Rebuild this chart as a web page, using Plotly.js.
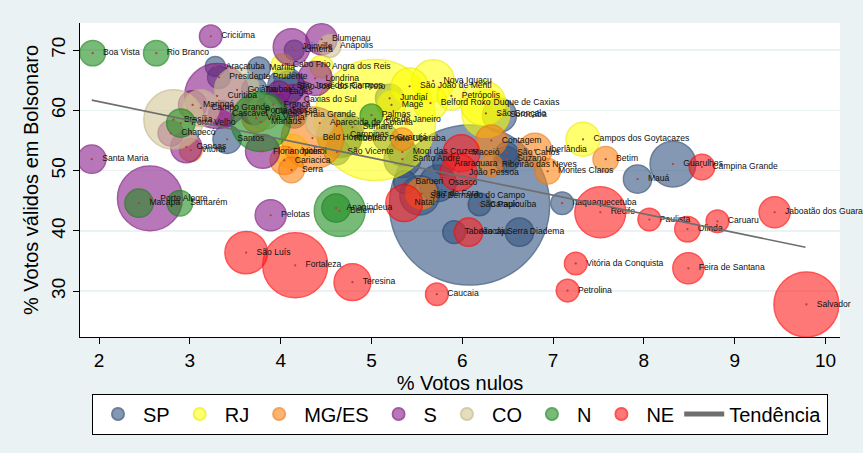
<!DOCTYPE html>
<html>
<head>
<meta charset="utf-8">
<script src="https://cdn.plot.ly/plotly-3.0.1.min.js"></script>
<style>
  html, body { margin: 0; padding: 0; background: #eaf2f3; }
  #chart { width: 863px; height: 453px; }
</style>
</head>
<body>
<div id="chart"></div>
<script>
// Votos nulos x votos válidos em Bolsonaro, por cidade, colorido por região.
// Tamanho da bolha = eleitorado (milhares).

const spNome = ["São Paulo", "Guarulhos", "Campinas", "São Bernardo do Campo", "Santo André", "Osasco",
  "São José dos Campos", "Ribeirão Preto", "Sorocaba", "Mauá", "São José do Rio Preto", "Mogi das Cruzes",
  "Santos", "Diadema", "Jundiaí", "Carapicuíba", "Itaquaquecetuba", "São Vicente", "Franca", "Praia Grande",
  "Guarujá", "Taubaté", "Limeira", "Suzano", "Taboão da Serra", "Sumaré", "Barueri", "Marília", "São Carlos",
  "Araraquara", "Presidente Prudente", "Araçatuba"];
const spNulos = [6.08, 8.32, 4.65, 5.53, 5.34, 5.73, 4.06, 4.70, 6.41, 7.93, 4.09, 5.34,
  3.41, 6.63, 5.20, 6.19, 7.10, 4.62, 3.92, 4.15, 5.16, 3.71, 4.15, 6.49, 5.91, 4.79, 5.37, 3.76, 6.49,
  5.80, 3.32, 3.28];
const spBolso = [44.3, 51.1, 55.9, 45.9, 51.9, 47.9, 64.0, 55.2, 59.2, 48.6, 63.9, 53.1,
  55.2, 39.8, 62.0, 44.4, 44.6, 53.1, 61.0, 59.2, 55.4, 63.4, 70.0, 51.9, 39.8, 57.2, 48.1, 67.0, 52.9,
  51.2, 65.5, 67.3];
const spEleit = [8600, 700, 680, 520, 450, 450, 450, 385, 385, 267, 323, 267,
  267, 267, 267, 171, 171, 216, 216, 216, 216, 216, 131, 216, 171, 171, 171, 171, 171,
  171, 171, 131];

const rjNome = ["Rio de Janeiro", "São Gonçalo", "Duque de Caxias", "Nova Iguaçu", "São João de Meriti",
  "Belford Roxo", "Niterói", "Campos dos Goytacazes", "Petrópolis", "Magé", "Cabo Frio", "Angra dos Reis"];
const rjNulos = [5.04, 6.26, 6.23, 5.68, 5.42, 5.65, 4.12, 7.33, 5.88, 5.22, 4.02, 4.45];
const rjBolso = [58.4, 59.5, 61.2, 64.9, 64.0, 61.2, 53.2, 55.2, 62.4, 60.9, 67.5, 67.3];
const rjEleit = [4900, 770, 680, 600, 450, 385, 385, 385, 267, 267, 171, 171];

const mgNome = ["Belo Horizonte", "Contagem", "Uberlândia", "Juiz de Fora", "Betim", "Montes Claros",
  "Ribeirão das Neves", "Uberaba", "Vila Velha", "Cariacica", "Serra", "Vitória"];
const mgNulos = [4.35, 6.32, 6.80, 5.55, 7.58, 6.94, 6.32, 5.34, 3.73, 4.04, 4.12, 3.01];
const mgBolso = [55.4, 55.0, 53.4, 46.2, 51.9, 49.9, 50.9, 55.2, 58.7, 51.7, 50.1, 53.4];
const mgEleit = [1290, 323, 385, 323, 216, 216, 171, 171, 267, 267, 216, 171];

const sNome = ["Curitiba", "Porto Alegre", "Joinville", "Londrina", "Caxias do Sul", "Florianópolis",
  "Maringá", "Pelotas", "Canoas", "Blumenau", "Ponta Grossa", "Cascavel", "Santa Maria", "Chapecó",
  "Criciúma", "Lages"];
const sNulos = [3.30, 2.56, 4.12, 4.38, 4.14, 3.80, 3.03, 3.89, 2.96, 4.45, 3.71, 3.35, 1.92, 2.79, 3.23, 3.98];
const sBolso = [62.4, 45.4, 70.5, 65.3, 61.7, 53.2, 60.9, 42.6, 53.9, 71.8, 60.0, 59.5, 51.9, 56.2, 72.3, 63.0];
const sEleit = [1410, 1410, 450, 385, 323, 385, 267, 323, 323, 323, 267, 216, 267, 216, 171, 171];

const coNome = ["Brasília", "Goiânia", "Campo Grande", "Cuiabá", "Aparecida de Goiânia", "Anápolis"];
const coNulos = [2.82, 3.52, 3.12, 3.82, 4.43, 4.54];
const coBolso = [58.5, 63.4, 60.4, 59.7, 57.9, 70.7];
const coEleit = [1180, 684, 450, 385, 267, 171];

const nNome = ["Manaus", "Belém", "Ananindeua", "Macapá", "Santarém", "Porto Velho", "Boa Vista",
  "Rio Branco", "Palmas"];
const nNulos = [3.78, 4.65, 4.61, 2.44, 2.89, 2.90, 1.93, 2.63, 5.00];
const nBolso = [58.1, 43.3, 43.8, 44.6, 44.6, 57.9, 69.5, 69.5, 59.2];
const nEleit = [1180, 865, 267, 267, 216, 267, 216, 216, 171];

const neNome = ["Salvador", "Fortaleza", "Recife", "São Luís", "Teresina", "Natal", "Maceió", "João Pessoa",
  "Aracaju", "Jaboatão dos Guararapes", "Feira de Santana", "Campina Grande", "Caucaia", "Petrolina",
  "Vitória da Conquista", "Olinda", "Paulista", "Caruaru"];
const neNulos = [9.79, 4.16, 7.52, 3.62, 4.79, 5.36, 5.99, 5.96, 6.07, 9.44, 8.49, 8.64, 5.72, 7.16,
  7.25, 8.48, 8.06, 8.81];
const neBolso = [27.8, 34.3, 43.1, 36.4, 31.5, 44.6, 52.9, 49.7, 39.8, 43.1, 33.8, 50.6, 29.5, 30.1,
  34.6, 40.3, 41.9, 41.6];
const neEleit = [1410, 1410, 865, 601, 451, 451, 451, 451, 267, 323, 323, 216, 171, 171, 171, 216, 171, 171];

// reta de tendência (extremos)
const tendX = [1.92, 9.78];
const tendY = [61.7, 37.3];

const regioes = [
  { nome: "SP",    n: spNome, x: spNulos, y: spBolso, s: spEleit, fill: "rgba(50,84,128,0.85)",  line: "#284870" },
  { nome: "RJ",    n: rjNome, x: rjNulos, y: rjBolso, s: rjEleit, fill: "rgba(255,255,0,0.8)",   line: "#eeee00" },
  { nome: "MG/ES", n: mgNome, x: mgNulos, y: mgBolso, s: mgEleit, fill: "rgba(255,133,20,0.85)", line: "#f07810" },
  { nome: "S",     n: sNome,  x: sNulos,  y: sBolso,  s: sEleit,  fill: "rgba(138,28,138,0.85)", line: "#7a157a" },
  { nome: "CO",    n: coNome, x: coNulos, y: coBolso, s: coEleit, fill: "rgba(212,200,150,0.85)", line: "#c4b585" },
  { nome: "N",     n: nNome,  x: nNulos,  y: nBolso,  s: nEleit,  fill: "rgba(30,140,30,0.85)",  line: "#17821a" },
  { nome: "NE",    n: neNome, x: neNulos, y: neBolso, s: neEleit, fill: "rgba(255,30,30,0.85)",  line: "#ff0808" },
];

const FONT = "Arial, 'Liberation Sans', sans-serif";
const traces = [];

regioes.forEach(r => {
  traces.push({
    type: "scatter", mode: "markers", name: r.nome,
    x: r.x, y: r.y, text: r.n, hoverinfo: "text+x+y",
    marker: { size: r.s, sizemode: "area", sizeref: 0.67, color: r.fill,
              line: { color: r.line, width: 1.5 } },
  });
});

// pontinhos no centro de cada bolha
const todosX = regioes.flatMap(r => r.x);
const todosY = regioes.flatMap(r => r.y);
const todosN = regioes.flatMap(r => r.n);
traces.push({
  type: "scatter", mode: "markers", x: todosX, y: todosY, showlegend: false, hoverinfo: "skip",
  marker: { size: 2.2, color: "#b0403a" },
});
// rótulos das cidades (marcador invisível só para afastar o texto)
traces.push({
  type: "scatter", mode: "markers+text", x: todosX, y: todosY, text: todosN,
  textposition: "middle right", showlegend: false, hoverinfo: "skip", cliponaxis: false,
  textfont: { family: FONT, size: 8.6, color: "#111" },
  marker: { size: 15, color: "rgba(0,0,0,0)", line: { width: 0 } },
});
traces.push({
  type: "scatter", mode: "lines", name: "Tendência", x: tendX, y: tendY,
  line: { color: "#6e6e6e", width: 1.6 }, hoverinfo: "skip",
});

const layout = {
  width: 863, height: 453,
  paper_bgcolor: "#eaf2f3", plot_bgcolor: "#ffffff",
  font: { family: FONT, color: "#000" },
  margin: { l: 80, r: 23, t: 23, b: 116 },
  xaxis: {
    range: [1.79, 10.16], tickvals: [2, 3, 4, 5, 6, 7, 8, 9, 10],
    ticks: "outside", ticklen: 6, tickcolor: "#000", showgrid: false, zeroline: false,
    showline: true, linecolor: "#000", linewidth: 1,
    tickfont: { size: 19, family: FONT },
    title: { text: "% Votos nulos", font: { size: 20, family: FONT }, standoff: 6 },
  },
  yaxis: {
    range: [22.4, 74.5], tickvals: [30, 40, 50, 60, 70], tickangle: -90,
    ticks: "outside", ticklen: 6, tickcolor: "#000", showgrid: true, gridcolor: "#eaf2f3", gridwidth: 1.5,
    zeroline: false, showline: true, linecolor: "#000", linewidth: 1,
    tickfont: { size: 19, family: FONT },
    title: { text: "% Votos válidos em Bolsonaro", font: { size: 20, family: FONT }, standoff: 4 },
  },
  legend: {
    orientation: "h", x: 0.5, xanchor: "center", y: -0.18, yanchor: "top",
    bgcolor: "#ffffff", bordercolor: "#000", borderwidth: 1,
    font: { size: 20, family: FONT }, itemsizing: "constant", itemwidth: 40,
  },
  showlegend: true,
};

Plotly.newPlot("chart", traces, layout, { displayModeBar: false, staticPlot: true });
</script>
</body>
</html>
